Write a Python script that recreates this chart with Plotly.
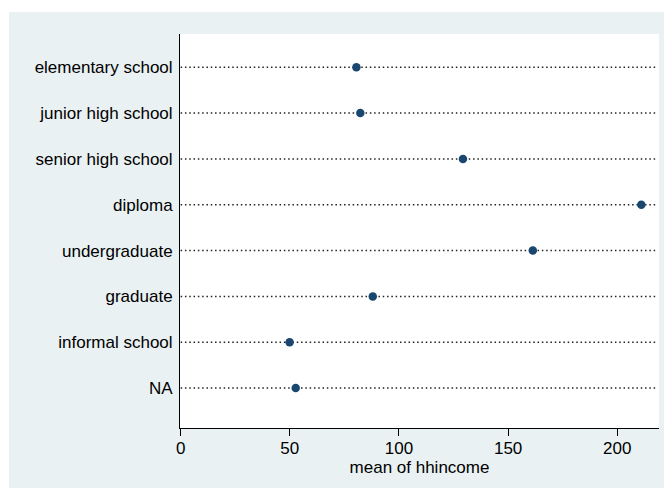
import plotly.graph_objects as go

categories = ["elementary school", "junior high school", "senior high school", "diploma",
              "undergraduate", "graduate", "informal school", "NA"]
mean_hhincome = [80.5, 82.3, 129.3, 211.0, 161.3, 88.0, 49.9, 52.7]
x_ticks = [0, 50, 100, 150, 200]

n = len(categories)
ypos = [n - i for i in range(n)]

# page body has an 8px margin; figure pixels = screen pixels - 8
W, H = 664, 480
L, T = 172, 26
pw, ph = 479, 394
R, B = W - L - pw, H - T - ph

BG = "#EAF1F3"
DOT = "#1A476F"
FONT = "Liberation Sans, Arial, sans-serif"

lx, ly = [], []
for y in ypos:
    lx += [0, 217.8, None]
    ly += [y, y, None]

fig = go.Figure()
fig.add_trace(go.Scatter(x=lx, y=ly, mode="lines",
                         line=dict(color="#222222", width=1.5, dash="1.5px,2.8px"),
                         hoverinfo="skip", showlegend=False))
fig.add_trace(go.Scatter(x=mean_hhincome, y=ypos, mode="markers",
                         marker=dict(color=DOT, size=8.5, line=dict(width=0)),
                         showlegend=False))

# thin white strips at top/left of the outer region
fig.add_shape(type="rect", xref="paper", yref="paper",
              x0=-L / pw - 0.01, x1=1 + R / pw + 0.01,
              y0=1 + (T - 4) / ph, y1=1 + T / ph + 0.01,
              fillcolor="white", line=dict(width=0), layer="below")
fig.add_shape(type="rect", xref="paper", yref="paper",
              x0=-L / pw - 0.01, x1=(1 - L) / pw,
              y0=-B / ph - 0.01, y1=1 + T / ph + 0.01,
              fillcolor="white", line=dict(width=0), layer="below")

fig.update_layout(
    width=W, height=H,
    margin=dict(l=L, r=R, t=T, b=B),
    paper_bgcolor=BG, plot_bgcolor="white",
    font=dict(family=FONT, size=17, color="black"),
    xaxis=dict(range=[-0.3, 219.1], tickvals=x_ticks, ticks="outside", ticklen=7,
               tickcolor="black", tickwidth=1, showline=True, linecolor="black",
               linewidth=1, showgrid=False, zeroline=False, ticklabelstandoff=-2,
               title=dict(text="mean of hhincome", standoff=0,
                          font=dict(size=17))),
    yaxis=dict(range=[0.128, 8.726], tickvals=ypos, ticktext=categories, ticks="",
               showline=True, linecolor="black", linewidth=1, showgrid=False,
               zeroline=False, ticklabelstandoff=3),
)

fig.write_html("out.html")
